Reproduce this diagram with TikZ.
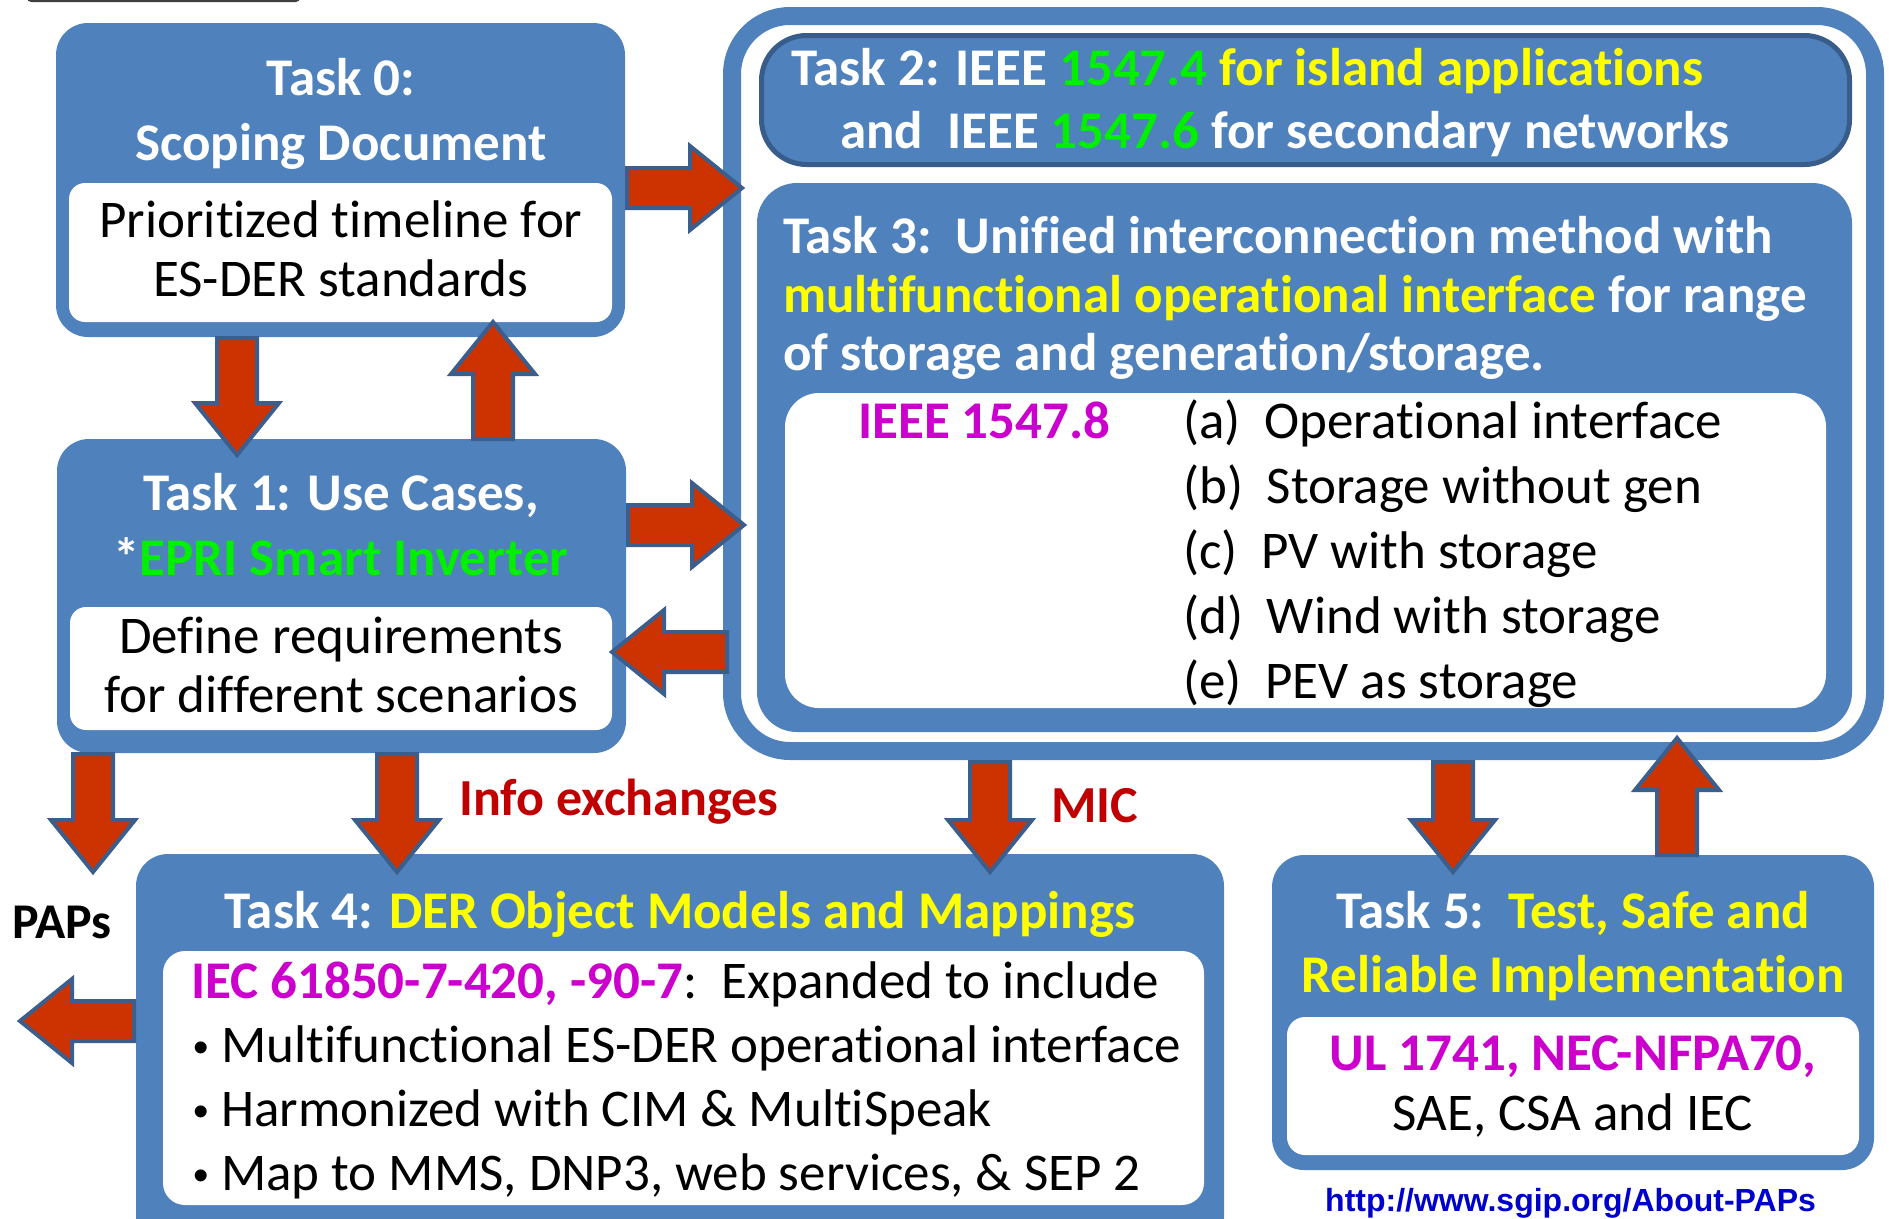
\documentclass[tikz,border=0pt]{standalone}
\usepackage{fontspec}
\setmainfont[Ligatures=NoCommon, RawFeature={-clig;-calt}]{Carlito}
\newfontfamily\urlfont{Liberation Sans}
\usetikzlibrary{calc}

\definecolor{taskblue}{HTML}{4F81BD}
\definecolor{edgeblue}{HTML}{385D8A}
\definecolor{arrowred}{HTML}{CC3300}
\definecolor{arrowedge}{HTML}{3B5E8C}
\definecolor{stdgreen}{HTML}{00F000}
\definecolor{stdyellow}{HTML}{FFFF00}
\definecolor{stdmagenta}{HTML}{CC00CC}
\definecolor{labelred}{HTML}{C00000}
\definecolor{linkblue}{HTML}{0000CC}
\definecolor{topbar}{HTML}{404040}

\def\shaftw{20pt}
\def\headw{42pt}
\def\headlen{52pt}

\newcommand{\grn}[1]{\textcolor{stdgreen}{#1}}
\newcommand{\ylw}[1]{\textcolor{stdyellow}{#1}}
\newcommand{\mgt}[1]{\textbf{\textcolor{stdmagenta}{#1}}}
\newcommand{\dotmark}{\makebox[28pt][l]{\urlfont\fontsize{44}{48}\selectfont\textbullet}}

\tikzset{
	taskbox/.style={rectangle, fill=taskblue, rounded corners=32pt, inner sep=0pt, outer sep=0pt},
	whitebox/.style={rectangle, fill=white, rounded corners=16pt, inner sep=0pt, outer sep=0pt},
	head/.style={font=\bfseries\fontsize{53}{64}\selectfont, text=white, inner sep=0pt, anchor=base},
	body/.style={font=\fontsize{53}{64}\selectfont, text=black, inner sep=0pt, anchor=base},
	flowlabel/.style={font=\bfseries\fontsize{52}{62}\selectfont, text=labelred, inner sep=0pt, anchor=base west},
	blockarrow/.style={draw=arrowedge, fill=arrowred, line width=4pt, line join=miter,
		to path={let \p1=($(\tikztotarget)!\headlen!(\tikztostart)$) in
			($(\tikztostart)!\shaftw!90:(\tikztotarget)$) --
			($(\p1)!\shaftw!90:(\tikztotarget)$) --
			($(\p1)!\headw!90:(\tikztotarget)$) --
			(\tikztotarget) --
			($(\p1)!\headw!-90:(\tikztotarget)$) --
			($(\p1)!\shaftw!-90:(\tikztotarget)$) --
			($(\tikztostart)!\shaftw!-90:(\tikztotarget)$) -- cycle}}
}

\begin{document}
\begin{tikzpicture}[x=1pt, y=-1pt]

	\useasboundingbox (0,0) rectangle (1889,1218);

	% bar cut off by the top edge
	\fill[topbar, rounded corners=4pt] (27,-30) rectangle (300,2);

	% frame round tasks 2 and 3
	\node[draw=taskblue, line width=18pt, rounded corners=58pt, inner sep=0pt, outer sep=0pt,
		minimum width=1143, minimum height=735] (cont) at (1303.5,383.5) {};
	\node[taskbox, draw=edgeblue, line width=5pt, rounded corners=45pt,
		minimum width=1088, minimum height=129] (t2) at (1305.5,100) {};
	\node[taskbox, rounded corners=40pt, minimum width=1095, minimum height=549] (t3) at (1304.5,457.5) {};
	\node[whitebox, rounded corners=34pt, minimum width=1041, minimum height=315] (t3w) at (1305.5,550.5) {};

	\node[taskbox, minimum width=569, minimum height=314] (t0) at (340.5,180) {};
	\node[whitebox, minimum width=543, minimum height=139] (t0w) at (340.5,252.5) {};

	\node[taskbox, minimum width=569, minimum height=314] (t1) at (341.5,596) {};
	\node[whitebox, minimum width=542, minimum height=123] (t1w) at (341,668.5) {};

	\node[taskbox, minimum width=1088, minimum height=396] (t4) at (680,1052) {};
	\node[whitebox, rounded corners=22pt, minimum width=1041, minimum height=254] (t4w) at (683.5,1078) {};

	\node[taskbox, minimum width=602, minimum height=315] (t5) at (1573,1012.5) {};
	\node[whitebox, rounded corners=18pt, minimum width=572, minimum height=138] (t5w) at (1573,1086) {};

	% arrow ends
	\coordinate (a1s) at ($(t0.east)+(2,8)$);
	\coordinate (a1e) at ($(t0.east -| cont.west)+(10,8)$);
	\coordinate (a2s) at ($(t0.south west)+(181,1)$);
	\coordinate (a2e) at ($(t1.north west)+(180,16)$);
	\coordinate (a3s) at ($(t1.north west)+(436,0)$);
	\coordinate (a3e) at ($(t0.south west)+(437,-15)$);
	\coordinate (a4s) at ($(t1.east)+(2,-71)$);
	\coordinate (a4e) at ($(t1.east -| cont.west)+(12,-71)$);
	\coordinate (a5s) at ($(t1.east -| cont.west)+(-5,56)$);
	\coordinate (a5e) at ($(t1.east)+(-14,56)$);
	\coordinate (a6s) at ($(t1.south west)+(36,1)$);
	\coordinate (papsin) at ($(a6s)+(0,118)$);
	\coordinate (a7s) at ($(t1.south west)+(340,1)$);
	\coordinate (a7e) at ($(t4.north west)+(261,18)$);
	\coordinate (a8s) at ($(cont.south west)+(258,11)$);
	\coordinate (a8e) at ($(t4.north west)+(854,18)$);
	\coordinate (a9s) at ($(cont.south west)+(721,11)$);
	\coordinate (a9e) at ($(t5.north west)+(181,17)$);
	\coordinate (a10s) at ($(t5.north west)+(405,0)$);
	\coordinate (a10e) at ($(cont.south west)+(945,-13)$);
	\coordinate (a11s) at ($(t4.north west)+(-2,167)$);
	\coordinate (papsout) at (20,1021);

	\draw[blockarrow] (a1s) to (a1e);
	\draw[blockarrow] (a2s) to (a2e);
	\draw[blockarrow] (a3s) to (a3e);
	\draw[blockarrow] (a4s) to (a4e);
	\draw[blockarrow] (a5s) to (a5e);
	\draw[blockarrow] (a6s) to (papsin);
	\draw[blockarrow] (a7s) to (a7e);
	\draw[blockarrow] (a8s) to (a8e);
	\draw[blockarrow] (a9s) to (a9e);
	\draw[blockarrow] (a10s) to (a10e);
	\draw[blockarrow] (a11s) to (papsout);

	% task 0
	\node[head] (t0h1) at (341,95) {Task 0:};
	\node[head] (t0h2) at (341,160) {Scoping Document};
	\node[body] (t0b1) at (341,237) {Prioritized timeline for};
	\node[body] (t0b2) at (341,296) {ES-DER standards};

	% task 1
	\node[head] (t1h1) at (341,510) {Task 1: Use Cases,};
	\node[head] (t1h2) at (341,575) {*\grn{EPRI Smart Inverter}};
	\node[body] (t1b1) at (341,653) {Define requirements};
	\node[body] (t1b2) at (341,712) {for different scenarios};

	% task 2
	\node[head, anchor=base west] (t2h1) at (791,85) {Task 2: IEEE \grn{1547.4} \ylw{for island applications}};
	\node[head, anchor=base west] (t2h2) at (840,148) {and~~IEEE \grn{1547.6} for secondary networks};

	% task 3
	\node[head, anchor=base west] (t3h1) at (783,253) {Task 3:~~Unified interconnection method with};
	\node[head, anchor=base west] (t3h2) at (783,312) {\ylw{multifunctional operational interface} for range};
	\node[head, anchor=base west] (t3h3) at (783,370) {of storage and generation/storage.};
	\node[body, anchor=base west] (ieee) at (858,438) {\mgt{IEEE 1547.8}};
	\foreach \lbl/\txt [count=\i from 0] in {a/Operational interface, b/Storage without gen,
		c/PV with storage, d/Wind with storage, e/PEV as storage}
		\node[body, anchor=base west] (item\lbl) at (1183,438+65*\i) {(\lbl)\hspace{0.45em}\txt};

	% task 4
	\node[head] (t4h) at (680,928) {Task 4: \ylw{DER Object Models and Mappings}};
	\node[body, anchor=base west] (t4b) at (191,998) {\mgt{IEC 61850-7-420, -90-7}:~~Expanded to include};
	\foreach \txt [count=\i from 0] in {Multifunctional ES-DER operational interface,
		Harmonized with CIM \& MultiSpeak, {Map to MMS, DNP3, web services, \& SEP 2}}
		\node[body, anchor=base west] (bul\i) at (193,1062+64*\i) {\dotmark\txt};

	% task 5
	\node[head] (t5h1) at (1573,928) {Task 5:~~\ylw{Test, Safe and}};
	\node[head] (t5h2) at (1573,992) {\ylw{Reliable Implementation}};
	\node[body] (t5b1) at (1573,1070) {\mgt{UL 1741, NEC-NFPA70,}};
	\node[body] (t5b2) at (1573,1130) {SAE, CSA and IEC};

	% labels
	\node[flowlabel] (info) at (459,815) {Info exchanges};
	\node[flowlabel] (mic) at (1051,822) {MIC};
	\node[font=\bfseries\fontsize{50}{60}\selectfont, inner sep=0pt, anchor=base west] (paps) at (12,938) {PAPs};
	\node[font=\urlfont\bfseries\fontsize{32}{38}\selectfont, text=linkblue, inner sep=0pt, anchor=base west]
		(link) at (1325,1211) {\underline{http://www.sgip.org/About-PAPs}};

\end{tikzpicture}
\end{document}
